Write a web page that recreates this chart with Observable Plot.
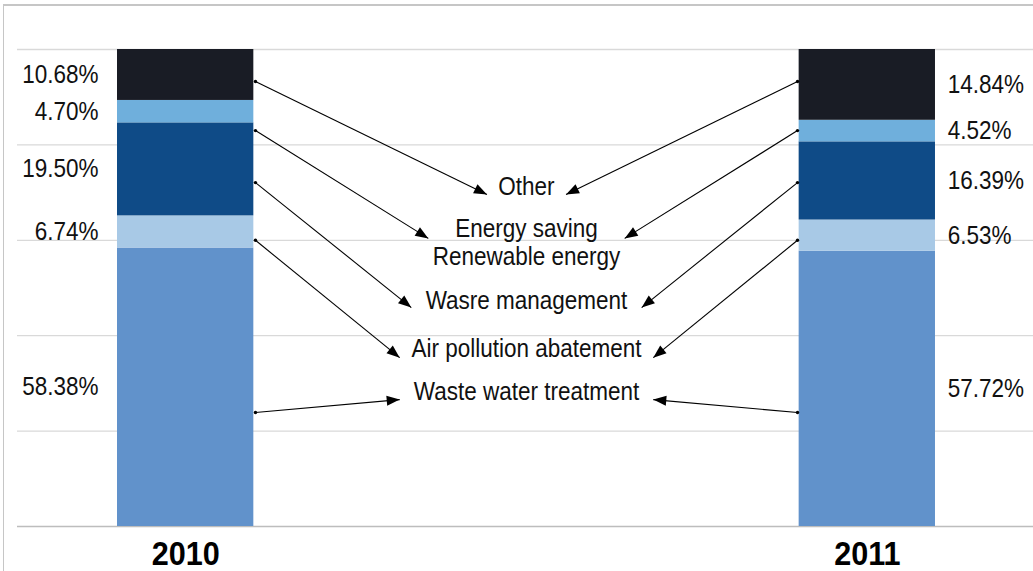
<!DOCTYPE html>
<html><head><meta charset="utf-8">
<script src="https://cdn.jsdelivr.net/npm/d3@7"></script>
<script src="https://cdn.jsdelivr.net/npm/@observablehq/plot@0.6"></script>
<style>
body{margin:0;background:#fff;}
#wrap{position:relative;width:1033px;height:571px;overflow:hidden;}
#frame{position:absolute;left:3px;top:4px;right:-2px;bottom:-2px;border-left:1px solid #c6c6c6;border-top:2px solid #c6c6c6;pointer-events:none;}
</style></head><body><div id="wrap"><div id="chart"></div><div id="frame"></div></div>
<script>
const years = ["2010", "2011"];
const categories = ["Waste water treatment", "Air pollution abatement", "Wasre management", "Energy saving\nRenewable energy", "Other"];
const values2010 = [58.38, 6.74, 19.50, 4.70, 10.68];
const values2011 = [57.72, 6.53, 16.39, 4.52, 14.84];
const colors = ["#6192cb", "#a8c9e6", "#0f4b87", "#6fafdc", "#191c25"];
const yTicks = [0, 20, 40, 60, 80, 100];
// annotation anchors, in percent units
const arrowStartY = [23.9, 60.0, 72.1, 83.0, 93.3];
const arrowTipY = [26.6, 35.4, 45.9, 60.4, 69.6];
const arrowTipSpread = [0.93, 0.93, 0.845, 0.72, 0.29];
const labelY = [28.3, 37.5, 47.4, 59.55, 71.3];

// layout slots on a linear x scale
const barSlot = {"2010": [0, 1], "2011": [5, 6]};
const pctX = {"2010": -0.14, "2011": 6.09};
const centerX = 3;

const series = {"2010": values2010, "2011": values2011};
const rows = years.flatMap(yr => categories.map((c, j) => ({
  year: yr, category: c, value: series[yr][j],
  x1: barSlot[yr][0], x2: barSlot[yr][1], lx: pctX[yr]
})));

const arrows = years.flatMap(yr => categories.map((c, j) => {
  const left = yr === "2010";
  return {
    x1: left ? barSlot[yr][1] + 0.012 : barSlot[yr][0] - 0.012,
    y1: arrowStartY[j],
    x2: centerX + (left ? -1 : 1) * arrowTipSpread[j],
    y2: arrowTipY[j]
  };
}));

const font = '"Liberation Sans", Arial, sans-serif';

const plot = Plot.plot({
  width: 1033, height: 571,
  marginLeft: 17, marginRight: 0, marginTop: 49, marginBottom: 45,
  x: {domain: [-0.7335, 6.719]},
  y: {domain: [0, 100], axis: null},
  color: {domain: categories, range: colors},
  style: {fontFamily: font, fontSize: "25px", color: "#111", background: "transparent"},
  marks: [
    Plot.ruleY(yTicks.slice(1), {stroke: "#d9d9d9", strokeWidth: 1.3}),
    Plot.ruleY([0], {stroke: "#bdbdbd", strokeWidth: 1.6}),
    Plot.rect(rows, Plot.stackY({x: "year", y: "value", x1: "x1", x2: "x2", fill: "category", z: "category", order: categories})),
    Plot.text(rows.filter(d => d.year === "2010"), Plot.stackY({x: "lx", y: "value", z: "category", order: categories, text: d => d.value.toFixed(2) + "%", textAnchor: "end", fontSize: 25, fill: "#111"})),
    Plot.text(rows.filter(d => d.year === "2011"), Plot.stackY({x: "lx", y: "value", z: "category", order: categories, text: d => d.value.toFixed(2) + "%", textAnchor: "start", fontSize: 25, fill: "#111"})),
    Plot.link(arrows, {x1: "x1", y1: "y1", x2: "x2", y2: "y2", stroke: "#000", strokeWidth: 1.1}),
    Plot.text(categories, {x: () => centerX, y: (d, i) => labelY[i], text: d => d, lineHeight: 1.12, fontSize: 25, fill: "#111"}),
    Plot.axisX({ticks: [0.5, 5.5], tickFormat: d => years[d < 3 ? 0 : 1], tickSize: 0, tickPadding: 14, fontSize: 34, fontWeight: "bold", label: null, fill: "#000"})
  ]
});

const svg = d3.select(plot);
const defs = svg.append("defs");
defs.append("marker").attr("id", "ahead").attr("viewBox", "-14 -6 15 12")
  .attr("markerWidth", 15).attr("markerHeight", 12).attr("markerUnits", "userSpaceOnUse")
  .attr("refX", 0).attr("refY", 0).attr("orient", "auto")
  .append("path").attr("d", "M0,0L-13,-5L-13,5Z").attr("fill", "#000");
defs.append("marker").attr("id", "adot").attr("viewBox", "-3 -3 6 6")
  .attr("markerWidth", 6).attr("markerHeight", 6).attr("markerUnits", "userSpaceOnUse")
  .attr("refX", 0).attr("refY", 0)
  .append("circle").attr("r", 1.7).attr("fill", "#000");
svg.selectAll('g[aria-label="link"] path')
  .attr("marker-start", "url(#adot)").attr("marker-end", "url(#ahead)");

// condensed look: squeeze every text horizontally about its anchor
svg.selectAll("text").each(function () {
  const t = d3.select(this);
  let tr = t.attr("transform");
  if (!tr) {
    const x = +t.attr("x") || 0, y = +t.attr("y") || 0;
    t.attr("x", null).attr("y", null);
    tr = `translate(${x},${y})`;
  }
  t.attr("transform", tr + " scale(0.9,1)");
});

document.getElementById("chart").appendChild(plot);
</script></body></html>
